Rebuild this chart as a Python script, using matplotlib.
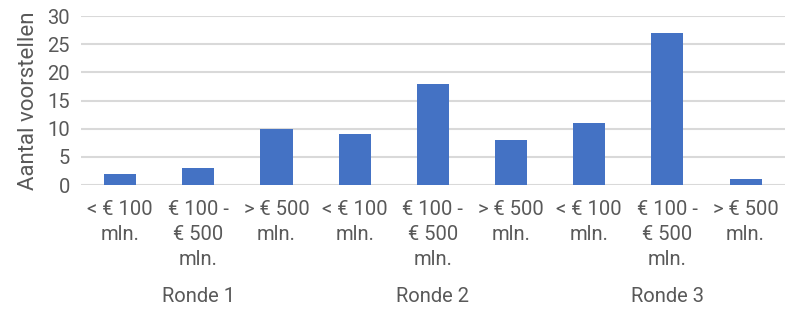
import matplotlib.pyplot as plt
import matplotlib.transforms as mtransforms

# data
categories = ["< € 100\nmln.", "€ 100 -\n€ 500\nmln.", "> € 500\nmln."] * 3
values = [2, 3, 10, 9, 18, 8, 11, 27, 1]
groups = ["Ronde 1", "Ronde 2", "Ronde 3"]

plt.rcParams['font.family'] = ['Roboto', 'DejaVu Sans']
grey = '#595959'
fs = 14.5

fig = plt.figure(figsize=(7.87, 3.09), dpi=100)
ax = fig.add_axes([0.103, 0.401, 0.894, 0.547])

x = list(range(len(values)))
ax.bar(x, values, width=0.41, color='#4472c4', zorder=3)

ax.set_xlim(-0.5, len(values) - 0.5)
ax.set_ylim(0, 30)
ax.set_yticks(range(0, 31, 5))
ax.yaxis.grid(True, color='#d9d9d9', linewidth=1.5, zorder=0)
ax.set_xticks(x)
ax.set_xticklabels(categories, multialignment='center', linespacing=1.38)
ax.tick_params(axis='both', length=0, labelsize=fs, colors=grey)
ax.tick_params(axis='x', pad=11)
ax.tick_params(axis='y', pad=8)
for s in ax.spines.values():
    s.set_visible(False)

ax.set_ylabel('Aantal voorstellen', fontsize=16, color=grey, labelpad=6)

# group labels under the categories
trans = mtransforms.blended_transform_factory(ax.transData, fig.transFigure)
for i, g in enumerate(groups):
    ax.text(i * 3 + 1, 1 - 297 / 309, g, transform=trans, ha='center', va='center',
            fontsize=fs, color=grey)

fig.savefig('out.png', dpi=100)
